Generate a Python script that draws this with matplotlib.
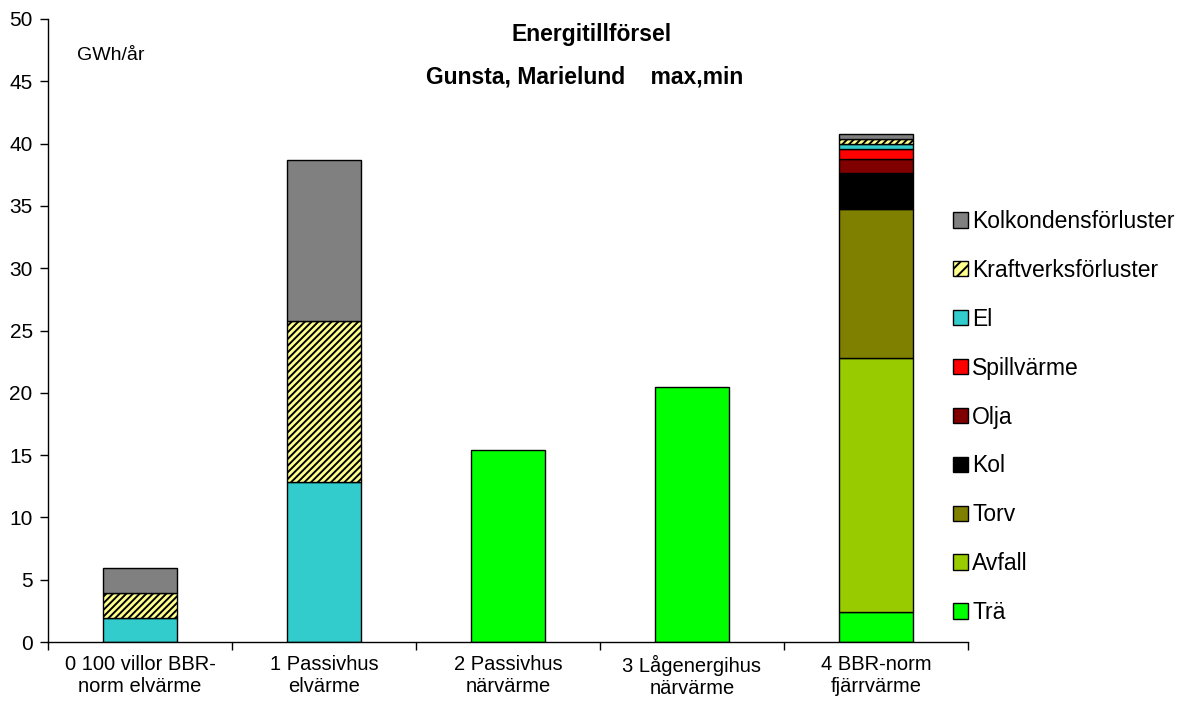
import numpy as np
import matplotlib.pyplot as plt
from matplotlib.patches import Patch

plt.rcParams['font.family'] = ['Liberation Sans', 'DejaVu Sans']
plt.rcParams['hatch.linewidth'] = 1.4

categories = ["0 100 villor BBR-\nnorm elvärme", "1 Passivhus\nelvärme",
              "2 Passivhus\nnärvärme", "3 Lågenergihus\nnärvärme",
              "4 BBR-norm\nfjärrvärme"]

# stacked from the bottom up
tra = [0, 0, 15.4, 20.5, 2.4]
avfall = [0, 0, 0, 0, 20.4]
torv = [0, 0, 0, 0, 11.95]
kol = [0, 0, 0, 0, 2.9]
olja = [0, 0, 0, 0, 1.15]
spillvarme = [0, 0, 0, 0, 0.75]
el = [1.95, 12.85, 0, 0, 0.4]
kraftverk = [2.0, 12.95, 0, 0, 0.4]
kolkondens = [2.0, 12.9, 0, 0, 0.45]

series = [
    ("Trä", tra, '#00FF00', None),
    ("Avfall", avfall, '#99CC00', None),
    ("Torv", torv, '#808000', None),
    ("Kol", kol, '#000000', None),
    ("Olja", olja, '#800000', None),
    ("Spillvärme", spillvarme, '#FF0000', None),
    ("El", el, '#33CCCC', None),
    ("Kraftverksförluster", kraftverk, '#FFFF8C', '/////'),
    ("Kolkondensförluster", kolkondens, '#808080', None),
]

fig = plt.figure(figsize=(11.91, 7.06), dpi=100)
ax = fig.add_axes([48 / 1191, 1 - 642 / 706, 920 / 1191, 623 / 706])

x = np.arange(len(categories))
bottom = np.zeros(len(categories))
handles = []
for name, vals, color, hatch in series:
    vals = np.array(vals, dtype=float)
    mask = vals > 0
    ax.bar(x[mask], vals[mask], 0.4, bottom=bottom[mask], color=color,
           edgecolor='black', linewidth=1.0, hatch=hatch)
    bottom += vals
    handles.append(Patch(facecolor=color, edgecolor='black',
                         hatch='///' if hatch else None,
                         linewidth=1.0, label=name))

ax.set_xlim(-0.5, len(categories) - 0.5)
ax.set_ylim(0, 50)
ax.set_yticks(np.arange(0, 51, 5))
ax.tick_params(axis='y', labelsize=15, direction='out', length=6, width=1, pad=5)

ax.set_xticks(x)
ax.set_xticklabels(categories, fontsize=14.5, linespacing=1.2)
ax.tick_params(axis='x', which='major', length=0, pad=9)
ax.set_xticks(np.arange(-0.5, len(categories), 1), minor=True)
ax.tick_params(axis='x', which='minor', length=6, width=1, direction='out')

for side in ('top', 'right'):
    ax.spines[side].set_visible(False)
ax.spines['left'].set_linewidth(1)
ax.spines['bottom'].set_linewidth(1)

fig.text(592 / 1191, 1 - 35 / 706, "Energitillförsel", ha='center', va='center',
         fontsize=16.5, fontweight='bold')
fig.text(585 / 1191, 1 - 77 / 706, "Gunsta, Marielund    max,min", ha='center',
         va='center', fontsize=16.5, fontweight='bold')
fig.text(77 / 1191, 1 - 55 / 706, "GWh/år", ha='left', va='center', fontsize=14)

fig.legend(handles=handles[::-1], loc='center left',
           bbox_to_anchor=(932 / 1191, 1 - 417 / 706), frameon=False,
           fontsize=16.5, handlelength=0.65, handleheight=0.65,
           handletextpad=0.2, labelspacing=1.13)

fig.savefig('out.png', dpi=100)
